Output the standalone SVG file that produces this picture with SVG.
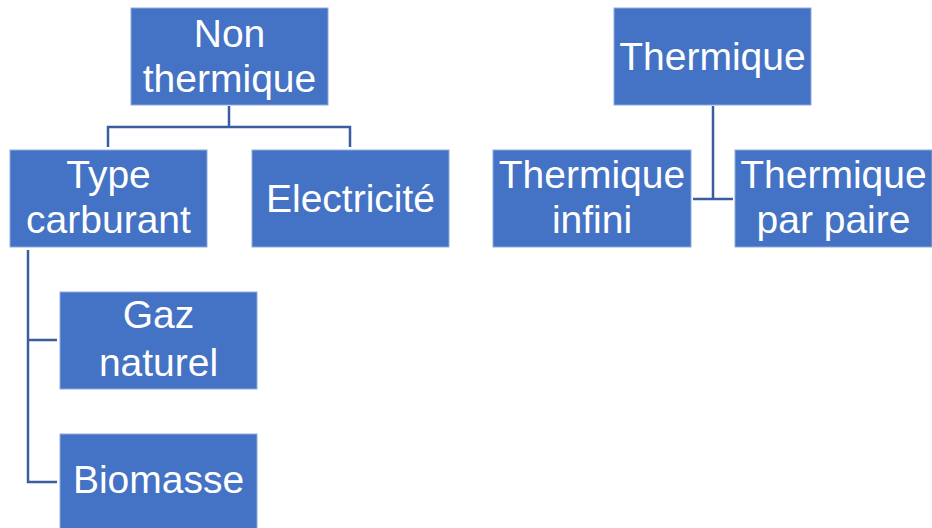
<svg xmlns="http://www.w3.org/2000/svg" width="932" height="528" viewBox="0 0 932 528">
<style>
.box{fill:#4472C4;stroke:#8FAADC;stroke-width:1}
.t{font-family:"Liberation Sans",Arial,sans-serif;font-size:39px;fill:#FFFFFF;text-anchor:middle}
.c{fill:none;stroke:#3B5C9E;stroke-width:2.5}
</style>
<rect width="932" height="528" fill="#FFFFFF"/>
<g id="connectors">
<path class="c" d="M229 106V127M108 147V127H350V147"/>
<path class="c" d="M713 106V199M693 199H733"/>
<path class="c" d="M28 250V482H57M28 340H57"/>
</g>
<g id="n-nonthermique"><rect class="box" x="131" y="8" width="197" height="97"/><text class="t" x="229.5" y="47">Non</text><text class="t" x="229.5" y="92">thermique</text></g>
<g id="n-typecarburant"><rect class="box" x="10" y="150" width="197" height="97"/><text class="t" x="108.5" y="188">Type</text><text class="t" x="108.5" y="233">carburant</text></g>
<g id="n-electricite"><rect class="box" x="252" y="150" width="197" height="97"/><text class="t" x="350.5" y="212">Electricité</text></g>
<g id="n-thermique"><rect class="box" x="614" y="8" width="197" height="97"/><text class="t" x="712.5" y="70">Thermique</text></g>
<g id="n-thermiqueinfini"><rect class="box" x="493" y="150" width="198" height="97"/><text class="t" x="592" y="188">Thermique</text><text class="t" x="592" y="233">infini</text></g>
<g id="n-thermiqueparpaire"><rect class="box" x="735" y="150" width="197" height="97"/><text class="t" x="833.5" y="188">Thermique</text><text class="t" x="833.5" y="233">par paire</text></g>
<g id="n-gaznaturel"><rect class="box" x="60" y="292" width="197" height="97"/><text class="t" x="158.5" y="328">Gaz</text><text class="t" x="158.5" y="376">naturel</text></g>
<g id="n-biomasse"><rect class="box" x="60" y="434" width="197" height="97"/><text class="t" x="158.5" y="493">Biomasse</text></g>
</svg>
